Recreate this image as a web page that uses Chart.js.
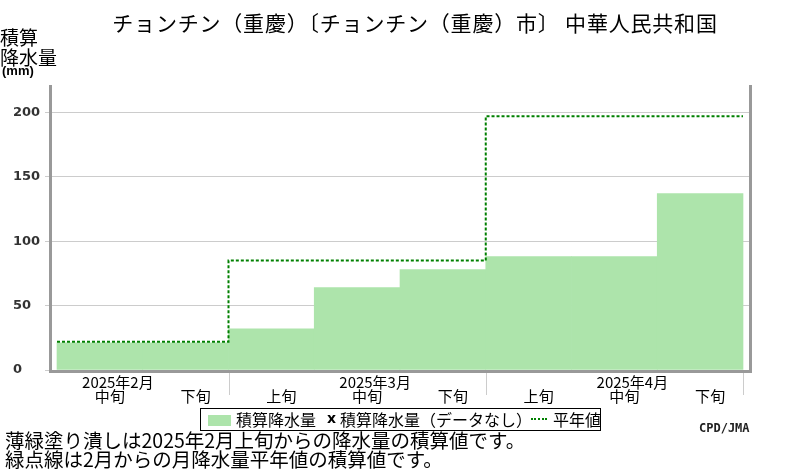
<!DOCTYPE html>
<html lang="ja">
<head>
<meta charset="utf-8">
<title>積算降水量 チョンチン（重慶）</title>
<script src="https://cdn.jsdelivr.net/npm/chart.js@4.4.1/dist/chart.umd.min.js"></script>
<style>
  html, body { margin: 0; padding: 0; background: #fff; }
  #wrap { position: relative; width: 800px; height: 470px; overflow: hidden;
          font-family: "Noto Sans CJK JP", sans-serif; color: #000; }
  #wrap canvas { position: absolute; left: 0; top: 0; }
  .t { position: absolute; white-space: nowrap; }
  #title { left: 0; width: 830px; text-align: center; top: 12px; font-size: 21px; line-height: 21px; letter-spacing: 0.8px; }
  .ytitle { left: 0; font-size: 19px; line-height: 19px; }
  #unit { left: 2px; top: 64px; font: bold 13px/13px "Liberation Sans", sans-serif; }
  #legend { position: absolute; left: 200px; top: 408px; width: 401px; height: 23px;
            box-sizing: border-box; border: 1px solid #000; }
  #swatch { position: absolute; left: 208px; top: 415px; width: 23px; height: 11px; background: #ade4ab; }
  .lg { top: 411px; font-size: 16px; line-height: 16px; }
  #xmark { left: 327px; top: 411px; font: bold 14px/14px "DejaVu Sans", sans-serif; }
  #dots { position: absolute; left: 531px; top: 418px; width: 16px; height: 0; border-top: 2px dotted #008000; }
  .note { left: 5px; font-size: 19.5px; line-height: 19.5px; }
  #credit { left: 699px; top: 422px; font: bold 12px/12px "DejaVu Sans Mono", monospace; color: #222; }
</style>
</head>
<body>
<div id="wrap">
  <canvas id="chart" width="800" height="470"></canvas>
  <div class="t" id="title">チョンチン（重慶）〔チョンチン（重慶）市〕 中華人民共和国</div>
  <div class="t ytitle" style="top:27px">積算</div>
  <div class="t ytitle" style="top:47px">降水量</div>
  <div class="t" id="unit">(mm)</div>
  <div id="legend"></div>
  <div id="swatch"></div>
  <div class="t lg" style="left:236px">積算降水量</div>
  <div class="t" id="xmark">x</div>
  <div class="t lg" style="left:340px">積算降水量（データなし）</div>
  <div id="dots"></div>
  <div class="t lg" style="left:553px">平年値</div>
  <div class="t" id="credit">CPD/JMA</div>
  <div class="t note" style="top:430px">薄緑塗り潰しは2025年2月上旬からの降水量の積算値です。</div>
  <div class="t note" style="top:449px">緑点線は2月からの月降水量平年値の積算値です。</div>
</div>
<script>
// dekads shown on the x axis
var dekadLabels = ['中旬', '下旬', '上旬', '中旬', '下旬', '上旬', '中旬', '下旬'];
// months and how many dekads of each are shown
var monthLabels = ['2025年2月', '2025年3月', '2025年4月'];
var monthDekadCount = [2, 3, 3];
// cumulative precipitation (mm) per dekad
var precipCumulative = [21, 21, 32, 64, 78, 88, 88, 137];
// cumulative monthly normal (mm)
var normalCumulative = [22, 85, 197];
var yTicks = [0, 50, 100, 150, 200];

// step line through month edges
var normalPoints = [];
var edge = -0.5;
normalPoints.push({x: edge, y: normalCumulative[0]});
monthDekadCount.forEach(function(n, m) {
  edge += n;
  var next = m + 1 < normalCumulative.length ? normalCumulative[m + 1] : normalCumulative[m];
  normalPoints.push({x: edge, y: next});
});

var barPoints = precipCumulative.map(function(v, i) { return {x: i, y: v}; });

var pad = 7 / 85.75; // gap between frame and first/last bar, in slot units

var monthAxisPlugin = {
  id: 'monthAxis',
  afterDraw: function(chart) {
    var ctx = chart.ctx;
    var xs = chart.scales.x;
    var area = chart.chartArea;
    ctx.save();

    // month separators and month labels
    ctx.strokeStyle = '#cccccc';
    ctx.lineWidth = 1;
    ctx.fillStyle = '#000';
    ctx.font = '15px "Noto Sans CJK JP"';
    ctx.textAlign = 'center';
    ctx.textBaseline = 'middle';
    var start = 0;
    monthLabels.forEach(function(label, m) {
      var end = start + monthDekadCount[m];
      var px = Math.round(xs.getPixelForValue(end - 0.5)) + 0.5;
      ctx.beginPath();
      ctx.moveTo(px, area.bottom + 2);
      ctx.lineTo(px, area.bottom + 25);
      ctx.stroke();
      var mid = start;
      for (var i = start; i < end; i++) {
        if (dekadLabels[i] === '中旬') { mid = i; }
      }
      ctx.fillText(label, xs.getPixelForValue(mid) + 18, 382);
      start = end;
    });

    // frame
    ctx.strokeStyle = '#999999';
    ctx.lineWidth = 3;
    ctx.beginPath();
    ctx.moveTo(area.left + 0.5, area.top);
    ctx.lineTo(area.left + 0.5, area.bottom + 3);
    ctx.moveTo(area.left - 1, area.bottom + 1.5);
    ctx.lineTo(area.right + 2, area.bottom + 1.5);
    ctx.moveTo(area.right + 0.5, area.top);
    ctx.lineTo(area.right + 0.5, area.bottom + 3);
    ctx.stroke();
    ctx.restore();
  }
};

var ctx = document.getElementById('chart').getContext('2d');
var chart = new Chart(ctx, {
  type: 'bar',
  data: {
    datasets: [{
      type: 'line',
      label: '平年値',
      data: normalPoints,
      stepped: 'before',
      borderColor: '#008000',
      borderWidth: 2,
      borderDash: [3, 2],
      pointRadius: 0,
      fill: false,
      order: 0
    }, {
      type: 'bar',
      label: '積算降水量',
      data: barPoints,
      backgroundColor: '#ade4ab',
      borderWidth: 0,
      barPercentage: 1,
      categoryPercentage: 1,
      order: 1
    }]
  },
  options: {
    responsive: false,
    animation: false,
    layout: { padding: { left: 13, right: 50, top: 85, bottom: 0 } },
    plugins: {
      legend: { display: false },
      tooltip: { enabled: false }
    },
    scales: {
      x: {
        type: 'linear',
        offset: false,
        min: -0.5 - pad,
        max: dekadLabels.length - 0.5 + pad,
        afterFit: function(s) { s.height = 100; },
        afterBuildTicks: function(s) {
          s.ticks = dekadLabels.map(function(l, i) { return {value: i}; });
        },
        grid: { display: false, drawTicks: false, offset: false },
        border: { display: false },
        ticks: {
          autoSkip: false,
          maxRotation: 0,
          padding: 17,
          labelOffset: 10,
          color: '#000',
          font: { family: '"Noto Sans CJK JP"', size: 15 },
          callback: function(v) { return dekadLabels[v]; }
        }
      },
      y: {
        min: 0,
        max: 221.2,
        afterFit: function(s) { s.width = 37; },
        afterBuildTicks: function(s) {
          s.ticks = yTicks.map(function(v) { return {value: v}; });
        },
        grid: { color: '#cccccc', lineWidth: 1, tickLength: 5 },
        border: { display: false },
        ticks: {
          crossAlign: 'far',
          color: '#333',
          font: { family: '"DejaVu Sans"', size: 13, weight: 'bold' }
        }
      }
    }
  },
  plugins: [monthAxisPlugin]
});
</script>
</body>
</html>
